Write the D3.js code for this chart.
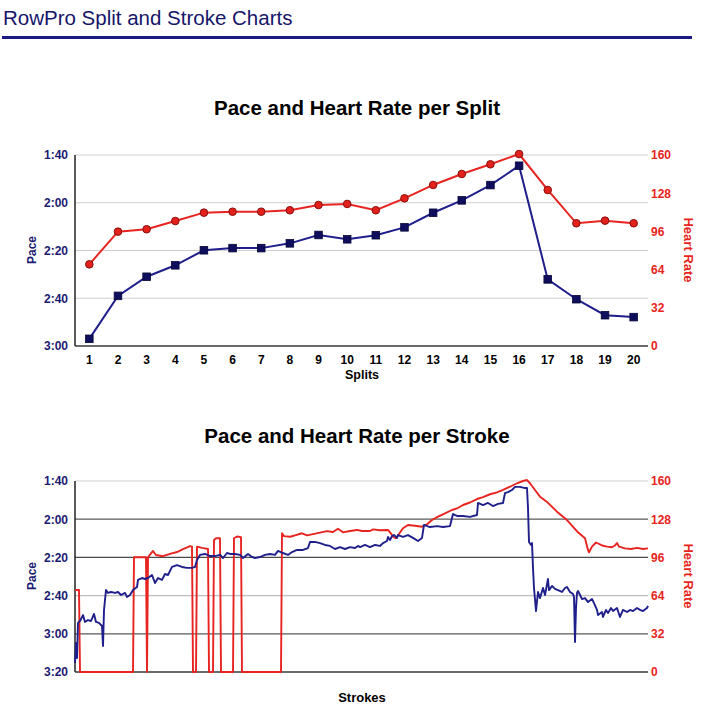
<!DOCTYPE html>
<html>
<head>
<meta charset="utf-8">
<script src="https://cdn.jsdelivr.net/npm/d3@7/dist/d3.min.js"></script>
<style>
  html, body { margin: 0; padding: 0; background: #fff; }
  svg { display: block; font-family: "Liberation Sans", Arial, Helvetica, sans-serif; }
</style>
</head>
<body>
<svg id="chart" width="712" height="712"></svg>
<script>
// ---------- data ----------
const splits = [1,2,3,4,5,6,7,8,9,10,11,12,13,14,15,16,17,18,19,20];
// pace per split in seconds per 500m
const splitPace = [177,159,151,146.2,139.9,139,139,137,133.5,135.3,133.6,130.3,124.2,119,112.6,104.5,152.1,160.4,167.1,167.9];
const splitHR = [68.4,95.8,97.8,104.7,111.7,112.5,112.5,113.7,118.1,119,113.7,123.7,134.9,144.1,152.2,160.8,130.7,102.8,105,102.8];

const paceTicksTop = [100,120,140,160,180];
const paceTicksBottom = [100,120,140,160,180,200];
const hrTicks = [0,32,64,96,128,160];

const strokePaceX = [0,1,2,3,5,8,10,13,16,19,21,24,27,28,29,31,33,36,40,43,46,50,52,55,58,62,63,67,70,73,77,80,83,87,90,93,97,102,107,112,117,120,122,125,130,135,140,145,148,152,155,160,165,168,173,177,180,185,190,195,200,203,208,213,217,222,228,233,235,240,245,250,255,260,265,270,275,280,283,285,290,295,300,305,308,312,313,315,317,319,322,323,328,333,338,343,347,349,355,362,368,375,378,382,388,395,402,403,408,413,418,423,428,430,433,437,440,445,450,452,453,454,456,457,458,459,461,463,465,468,470,473,474,477,480,483,487,490,492,495,498,499,500,501,502,503,505,507,510,513,517,519,522,523,527,528,531,533,536,538,542,545,548,552,555,558,562,565,568,572,573];
const strokePace = [195.3,184.8,192.7,174.3,173.3,170.2,173.8,172.8,173.3,169.6,173.8,174.3,175.9,186.4,167.5,157.1,158.6,158.1,158.6,158.1,159.7,158.6,160.7,159.7,157.1,155.5,151.8,150.8,151.3,150.8,149.2,153.4,150.8,151.8,148.7,149.2,145,144,145,145.5,145.5,145,141.4,138.7,138.2,139.3,139.3,138.7,140.3,137.7,138.2,138.2,138.7,140.3,138.2,139.8,140.3,139.8,138.7,138.2,138.7,136.6,137.7,138.7,137.2,136.1,136.1,135.1,131.9,131.9,132.5,133.5,134,135.6,134.6,135.6,134.6,135.1,134,134.6,133.5,134.6,133.5,134,132.5,131.4,129.3,130.9,128.8,128.3,129.8,128.3,129.3,128.3,129.8,131.4,129.8,123,124.1,123.6,124.1,123.6,117.3,118.3,118.3,118.8,117.8,111.5,112.6,111.5,113.1,112,111.5,106.3,105.8,104.7,103.1,103.1,103.7,103.7,114.1,131.9,133.5,132.5,145.5,156,168.1,158.1,161.3,156,159.7,151.3,157.1,155,156.5,157.1,158.1,156,155.5,158.1,159.2,160.7,184.3,166.5,158.6,157.6,159.7,161.8,161.3,163.4,161.8,163.9,167.5,170.2,168.6,171.2,167.5,169.1,166.5,168.1,166.5,171.2,167.5,168.6,167.5,168.1,166.5,167.5,168.1,166.5,165.4];

const strokeHrX = [0,4,5,58,59,71,72,73,76,78,81,88,95,102,108,115,117,118,121,122,127,133,134,138,139,141,145,146,158,159,162,166,167,206,207,209,215,220,227,232,238,245,252,258,263,268,275,282,287,295,298,305,313,316,318,321,324,328,333,340,347,352,357,363,370,377,382,388,395,402,408,415,422,428,435,442,448,452,455,460,465,472,482,492,503,510,513,514,517,521,527,532,537,540,542,544,550,556,562,568,573];
const strokeHr = [68.7,68.7,0,0,96.1,96.1,0,96.1,99.4,101.4,98,97,99,100.5,103,105.5,105,0,0,105,104,103,0,0,110.6,112,112,0,0,112,113.5,113,0,0,116.2,113.8,113.3,114.5,116.2,114.5,115.5,116.7,118,117.3,120,117,118.1,119,118.1,118.1,119.5,118.7,119,116,113.3,112,115.6,120.4,123.1,122.5,121.7,123.7,127.3,130.1,132.9,135.7,137,139.9,142,144.9,146.5,148.9,150.5,152.5,155.2,158.1,160,160.8,158.1,152.5,146.9,142.5,134.3,127.3,117,112,102.2,100.3,105,108.5,106,105,104.5,106,108,105,103.6,103,104,103,103.6];

// ---------- style ----------
const NAVY = "#1b1b72";
const BLUE = "#1f1f8c";
const RED = "#e82420";
const fmtPace = s => Math.floor(s/60) + ":" + String(Math.round(s%60)).padStart(2,"0");

const svg = d3.select("#chart");
svg.append("rect").attr("width",712).attr("height",712).attr("fill","#fff");

// header
svg.append("text").attr("x",3).attr("y",25).attr("font-size",20.5).attr("fill","#15156a").text("RowPro Split and Stroke Charts");
svg.append("rect").attr("x",2).attr("y",36).attr("width",690).attr("height",3).attr("fill","#1a1a80");

const L = 75, R = 648;

function styleAxisText(g, color, size) {
  g.select(".domain").remove();
  g.selectAll("text").attr("fill",color).attr("font-size",size).attr("font-weight","bold")
   .attr("font-family","'Liberation Sans', Arial, Helvetica, sans-serif");
}

// ---------- top chart ----------
(function(){
  const top = 155, bot = 346;
  const x = d3.scaleBand().domain(splits).range([L,R]);
  const cx = d => x(d) + x.bandwidth()/2;
  const yP = d3.scaleLinear().domain([100,180]).range([top,bot]);
  const yH = d3.scaleLinear().domain([0,160]).range([bot,top]);
  const g = svg.append("g");

  g.append("text").attr("x",357).attr("y",115).attr("text-anchor","middle")
    .attr("font-size",20.5).attr("font-weight","bold").attr("fill","#000").text("Pace and Heart Rate per Split");

  g.selectAll(".grid").data(paceTicksTop.slice(0,-1)).join("line")
    .attr("x1",L).attr("x2",R).attr("y1",d=>yP(d)).attr("y2",d=>yP(d))
    .attr("stroke","#cfcfcf").attr("stroke-width",1.2);
  g.append("line").attr("x1",L).attr("x2",R).attr("y1",bot).attr("y2",bot).attr("stroke","#6a6a6a").attr("stroke-width",2);
  g.append("line").attr("x1",L).attr("x2",L).attr("y1",top).attr("y2",bot).attr("stroke","#222").attr("stroke-width",1.5);

  const ax1 = g.append("g").attr("transform",`translate(${L},0)`)
    .call(d3.axisLeft(yP).tickValues(paceTicksTop).tickFormat(fmtPace).tickSize(0).tickPadding(7));
  styleAxisText(ax1, NAVY, 12);
  const ax2 = g.append("g").attr("transform",`translate(${R},0)`)
    .call(d3.axisRight(yH).tickValues(hrTicks).tickSize(0).tickPadding(3));
  styleAxisText(ax2, RED, 12);
  const ax3 = g.append("g").attr("transform",`translate(0,${bot})`)
    .call(d3.axisBottom(x).tickSize(0).tickPadding(9));
  styleAxisText(ax3, "#000", 12);

  g.append("text").attr("transform","translate(36,250) rotate(-90)").attr("text-anchor","middle")
    .attr("font-size",12).attr("font-weight","bold").attr("fill",NAVY).text("Pace");
  g.append("text").attr("transform","translate(684,250) rotate(90)").attr("text-anchor","middle")
    .attr("font-size",13).attr("font-weight","bold").attr("fill",RED).text("Heart Rate");
  g.append("text").attr("x",362).attr("y",379).attr("text-anchor","middle")
    .attr("font-size",12.5).attr("font-weight","bold").attr("fill","#000").text("Splits");

  const lineH = d3.line().x((d,i)=>cx(splits[i])).y(d=>yH(d));
  g.append("path").attr("d",lineH(splitHR)).attr("fill","none").attr("stroke",RED).attr("stroke-width",2);
  const lineP = d3.line().x((d,i)=>cx(splits[i])).y(d=>yP(d));
  g.append("path").attr("d",lineP(splitPace)).attr("fill","none").attr("stroke",BLUE).attr("stroke-width",2);

  g.selectAll(".hrdot").data(splitHR).join("circle")
    .attr("cx",(d,i)=>cx(splits[i])).attr("cy",d=>yH(d)).attr("r",3.8)
    .attr("fill","#e2211c").attr("stroke","#8a0d0a").attr("stroke-width",1);
  g.selectAll(".pdot").data(splitPace).join("rect")
    .attr("x",(d,i)=>cx(splits[i])-3.8).attr("y",d=>yP(d)-3.8).attr("width",7.6).attr("height",7.6)
    .attr("fill","#0e0e5c").attr("stroke","#06063a").attr("stroke-width",0.8);
})();

// ---------- bottom chart ----------
(function(){
  const top = 481, bot = 672;
  const x = d3.scaleLinear().domain([0,573]).range([L,R]);
  const yP = d3.scaleLinear().domain([100,200]).range([top,bot]);
  const yH = d3.scaleLinear().domain([0,160]).range([bot,top]);
  const g = svg.append("g");

  g.append("text").attr("x",357).attr("y",443).attr("text-anchor","middle")
    .attr("font-size",20.5).attr("font-weight","bold").attr("fill","#000").text("Pace and Heart Rate per Stroke");

  const gridColors = {100:"#cfcfcf",120:"#5a5a5a",140:"#4a4a4a",160:"#bdbdbd",180:"#5a5a5a"};
  g.selectAll(".grid").data(paceTicksBottom.slice(0,-1)).join("line")
    .attr("x1",L).attr("x2",R).attr("y1",d=>yP(d)).attr("y2",d=>yP(d))
    .attr("stroke",d=>gridColors[d]).attr("stroke-width",1.2);
  g.append("line").attr("x1",L).attr("x2",R).attr("y1",bot).attr("y2",bot).attr("stroke","#6a6a6a").attr("stroke-width",2);
  g.append("line").attr("x1",L).attr("x2",L).attr("y1",top).attr("y2",bot).attr("stroke","#222").attr("stroke-width",1.5);

  const ax1 = g.append("g").attr("transform",`translate(${L},0)`)
    .call(d3.axisLeft(yP).tickValues(paceTicksBottom).tickFormat(fmtPace).tickSize(0).tickPadding(7));
  styleAxisText(ax1, NAVY, 12);
  const ax2 = g.append("g").attr("transform",`translate(${R},0)`)
    .call(d3.axisRight(yH).tickValues(hrTicks).tickSize(0).tickPadding(3));
  styleAxisText(ax2, RED, 12);

  g.append("text").attr("transform","translate(36,576) rotate(-90)").attr("text-anchor","middle")
    .attr("font-size",12).attr("font-weight","bold").attr("fill",NAVY).text("Pace");
  g.append("text").attr("transform","translate(684,576) rotate(90)").attr("text-anchor","middle")
    .attr("font-size",13).attr("font-weight","bold").attr("fill",RED).text("Heart Rate");
  g.append("text").attr("x",362).attr("y",702).attr("text-anchor","middle")
    .attr("font-size",13).attr("font-weight","bold").attr("fill","#000").text("Strokes");

  const lineH = d3.line().x((d,i)=>x(strokeHrX[i])).y(d=>yH(d));
  g.append("path").attr("d",lineH(strokeHr)).attr("fill","none").attr("stroke",RED).attr("stroke-width",1.9).attr("stroke-linejoin","round");
  const lineP = d3.line().x((d,i)=>x(strokePaceX[i])).y(d=>yP(d));
  g.append("path").attr("d",lineP(strokePace)).attr("fill","none").attr("stroke",BLUE).attr("stroke-width",1.9).attr("stroke-linejoin","round");
})();
</script>
</body>
</html>
